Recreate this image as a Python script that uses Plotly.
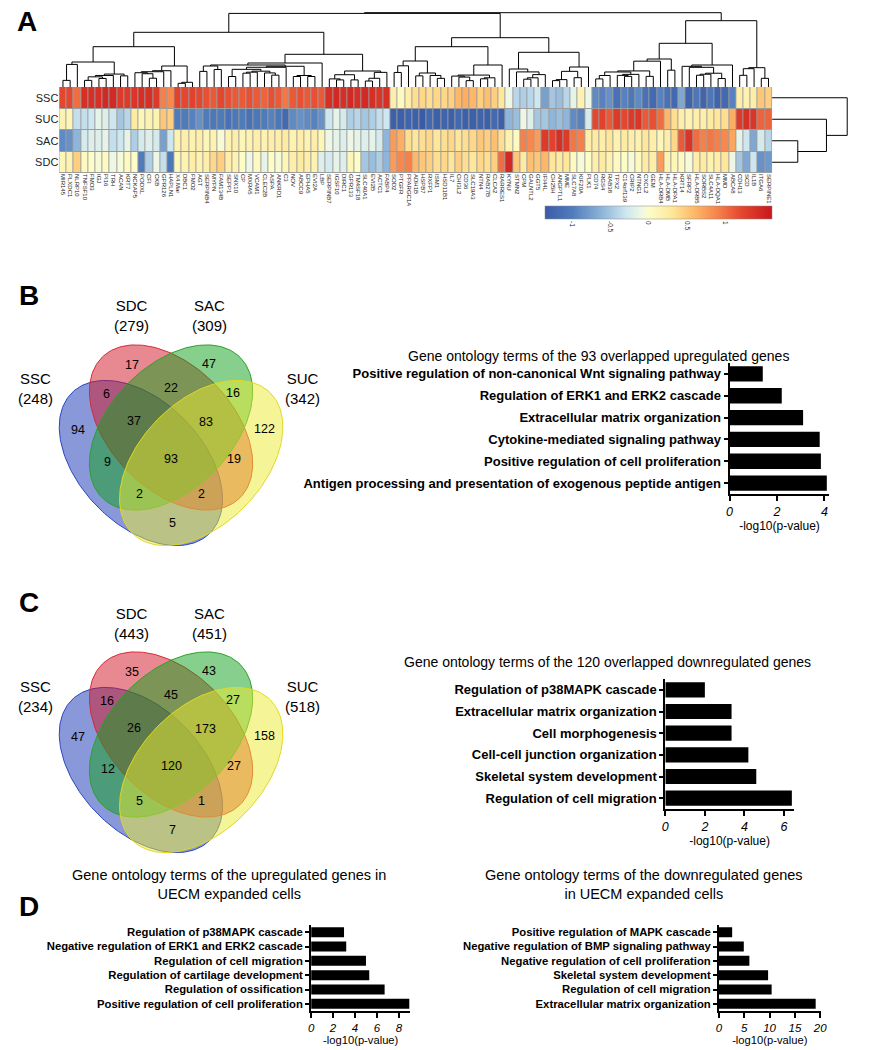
import numpy as np
import plotly.graph_objects as go

W, H = 873, 1050
FONT = "Liberation Sans, Arial, sans-serif"

# ---------------- DATA ----------------
genes = ["MIR145", "PLXDC1", "NLRP10", "TNFSF10", "FMO3", "IGJ", "PI16", "TRH", "ACAN", "KRT7",
         "NCKAP5", "PODXL", "CFI", "CKB", "GPR126", "HAPLN1", "X4.Mar", "DBC1", "FMO2", "AGT",
         "SERPINB4", "MYPN", "FAM134B", "SEPP1", "SNX10", "CP", "MXRA5", "VCAM1", "CLEC2B", "ASPA",
         "ANKRD1", "C3", "NOV", "ABCC9", "EPHA5", "EVI2A", "LBP", "SERPINB7", "IGSF10", "DIRC1",
         "GPR133", "TM4SF18", "SLC40A1", "EVI2B", "ACTC1", "FABP4", "SOD2", "PTGFR", "PPARGC1A", "ADH1B",
         "HSPB7", "RXFP1", "ISM1", "HSD11B1", "IL7", "CHI3L2", "CD36", "SLC19A3", "NTN4", "RAB27B",
         "CLCA2", "RARRES1", "KYNU", "STMN2", "CPM", "GALNTL2", "GGT5", "IFI44L", "CH25H", "ANGPTL1",
         "MME", "SLC7A8", "KIF20A", "PLK1", "CD74", "RGS4", "RAB38", "TPX2", "C14orf139", "CRIP2",
         "NTNG1", "CXCL2", "GEM", "HLA-DRB4", "HLA-DMB", "HLA-DPA1", "KRT14", "SFRP2", "HLA-DRB5", "SORBS2",
         "SLC4A11", "HLA-DQA1", "MMD", "ABCA8", "CDH13", "SCD", "IL1B", "ITGA6", "SERPINE1"]
row_names = ["SSC", "SUC", "SAC", "SDC"]

ssc = [1.2, 1.2, 1.0, 1.4, 1.4, 1.4, 1.45, 1.45, 1.3, 1.3,
       1.35, 1.4, 1.4, 1.3, 0.9, 0.85, 1.25, 1.2, 1.25, 1.2,
       1.15, 1.1, 1.2, 1.15, 1.1, 1.1, 1.15, 1.1, 1.05, 1.15,
       1.1, 0.95, 1.1, 1.15, 1.1, 1.15, 1.1, 1.4, 1.45, 1.4,
       1.45, 1.4, 1.45, 1.4, 1.35, 1.4, 0.2, 0.05, 0.2, 0.35,
       0.4, 0.35, 0.4, 0.4, 0.45, 0.6, 0.65, 0.6, 0.45, 0.55,
       0.45, 0.3, -0.1, -0.4, -0.45, -0.4, -0.3, -0.75, -0.5, -0.55,
       -0.4, -0.15, 0.15, -0.1, -0.9, -0.95, -0.85, -1.1, -0.95, -1.05,
       -0.9, -1.1, -1.2, -0.95, -1.1, -1.2, -0.7, -1.25, -1.05, -1.25,
       -1.05, -1.25, -1.2, -0.95, 0.2, 0.15, 0.2, 0.5, 0.45]
suc = [0.15, 0.1, -0.35, -0.35, -0.3, -0.15, -0.2, -0.3, -0.5, -0.4,
       0.25, 0.1, 0.15, 0.15, 0.5, 0.45, -1.0, -1.0, -0.95, -0.85,
       -1.0, -1.05, -1.0, -1.1, -1.05, -1.0, -1.1, -1.05, -1.0, -0.95,
       -1.05, -1.2, -0.9, -0.85, -0.9, -0.95, -0.85, -0.3, -0.15, -0.25,
       -0.45, -0.4, -0.5, -0.45, -0.35, -0.3, -1.3, -1.3, -1.25, -1.3,
       -1.35, -1.2, -1.3, -1.25, -1.3, -1.2, -1.3, -1.3, -1.25, -1.3,
       -1.2, -1.3, -0.6, -0.55, -0.1, -0.2, -0.5, -0.5, -0.6, -0.55,
       -0.6, -0.9, -0.95, -0.25, 1.2, 1.25, 1.1, 1.3, 1.2, 1.3,
       1.35, 1.1, 1.15, 1.0, 0.6, 0.35, 0.2, 0.15, 0.2, 0.2,
       0.25, 0.3, 0.35, 0.65, 1.3, 1.4, 1.35, 1.05, 1.05]
sac = [-0.9, -0.85, -0.6, -0.25, -0.2, -0.2, -0.15, -0.35, -0.3, -0.15,
       -0.45, -0.25, -0.2, -0.25, -0.75, -0.3, 0.15, 0.2, 0.15, 0.2,
       0.1, 0.15, -0.05, 0.15, 0.2, 0.1, 0.15, 0.2, 0.15, 0.2,
       0.2, 0.25, 0.15, 0.2, 0.15, 0.2, 0.1, -0.1, -0.15, -0.2,
       -0.1, -0.15, -0.2, -0.15, -0.25, -0.6, 0.75, 0.65, 0.35, 0.3,
       0.35, 0.4, 0.3, 0.35, 0.4, 0.3, 0.35, 0.4, 0.5, 0.45,
       0.55, 0.35, 0.15, 0.05, 0.9, 0.85, 0.75, 1.3, 1.25, 1.4,
       1.3, 0.95, 0.9, 0.2, 0.25, 0.2, 0.3, 0.15, 0.25, 0.2,
       0.15, 0.3, 0.2, 0.1, 0.2, 0.4, 1.1, 1.35, 1.0, 0.9,
       0.95, 0.9, 0.85, 0.7, -0.15, -0.3, -0.7, -0.25, -0.4]
sdc = [0.1, 0.15, 0.45, 0.05, 0.0, -0.05, 0.05, -0.1, -0.05, 0.05,
       0.0, -1.0, -0.45, -0.1, -0.35, -1.05, 0.1, 0.15, 0.2, 0.15,
       0.2, 0.4, 0.45, 0.2, 0.15, 0.0, -0.1, 0.05, -0.15, 0.0,
       -0.05, 0.1, 0.2, 0.25, 0.2, 0.15, -0.2, -0.25, -0.15, -0.2,
       0.1, 0.0, -0.5, -0.55, -0.45, -0.6, 0.75, 0.85, 0.9, 0.6,
       0.5, 0.45, 0.35, 0.4, 0.3, 0.45, 0.35, 0.3, 0.4, 0.35,
       0.45, 1.0, 1.45, 0.5, 0.25, 0.55, 0.5, 0.6, 0.3, 0.25,
       0.3, 0.05, -0.05, 0.0, 0.2, 0.25, 0.15, 0.05, 0.0, -0.05,
       0.05, 0.25, 0.2, 0.75, 0.15, 0.1, 0.05, -0.05, 0.2, 0.25,
       0.15, 0.2, 0.3, -0.1, -0.5, -0.7, -0.3, -0.85, -0.8]

# Column dendrogram: [merge height, left, right]; (start, end, top height) = group clustered from the data
col_tree = [74.3,
            [73.6,
             [54.7, [40.3, (0, 10, 25), (10, 19, 21)], [32.7, (19, 37, 24), (37, 46, 16)]],
             [49.3, [40.3, (46, 54, 26), (54, 62, 22)], [34.7, (62, 68, 18), (68, 74, 20)]]],
            [66.3, [43.7, (74, 86, 28), (86, 94, 22)], (94, 99, 18.7)]]
# Row dendrogram (rows 0..3 = SSC, SUC, SAC, SDC)
row_tree = [76, 0, [55, 1, [26, 2, 3]]]

# Venn counts per region
venn_regions = ["SSC", "SDC", "SAC", "SUC", "SSC&SDC", "SDC&SAC", "SAC&SUC", "SSC&SDC&SAC",
                "SDC&SAC&SUC", "SSC&SAC", "ALL", "SDC&SUC", "SSC&SAC&SUC", "SSC&SDC&SUC", "SSC&SUC"]
venn_b_counts = [94, 17, 47, 122, 6, 22, 16, 37, 83, 9, 93, 19, 2, 2, 5]
venn_c_counts = [47, 35, 43, 158, 16, 45, 27, 26, 173, 12, 120, 27, 5, 1, 7]
venn_b_totals = {"SSC": 248, "SDC": 279, "SAC": 309, "SUC": 342}
venn_c_totals = {"SSC": 234, "SDC": 443, "SAC": 451, "SUC": 518}

go_b_terms = ["Positive regulation of non-canonical Wnt signaling pathway",
              "Regulation of ERK1 and ERK2 cascade",
              "Extracellular matrix organization",
              "Cytokine-mediated signaling pathway",
              "Positive regulation of cell proliferation",
              "Antigen processing and presentation of exogenous peptide antigen"]
go_b_vals = [1.4, 2.2, 3.1, 3.8, 3.85, 4.1]
go_c_terms = ["Regulation of p38MAPK cascade", "Extracellular matrix organization",
              "Cell morphogenesis", "Cell-cell junction organization",
              "Skeletal system development", "Regulation of cell migration"]
go_c_vals = [2.0, 3.35, 3.35, 4.2, 4.6, 6.4]
go_d1_terms = ["Regulation of p38MAPK cascade", "Negative regulation of ERK1 and ERK2 cascade",
               "Regulation of cell migration", "Regulation of cartilage development",
               "Regulation of ossification", "Positive regulation of cell proliferation"]
go_d1_vals = [3.0, 3.2, 5.0, 5.3, 6.7, 8.95]
go_d2_terms = ["Positive regulation of MAPK cascade", "Negative regulation of BMP signaling pathway",
               "Negative regulation of cell proliferation", "Skeletal system development",
               "Regulation of cell migration", "Extracellular matrix organization"]
go_d2_vals = [2.6, 4.9, 6.0, 9.7, 10.4, 19.1]

# ---------------- HELPERS ----------------
def dx(x0, x1):
    return [x0 / W, x1 / W]


def dy(y0, y1):
    return [1 - y1 / H, 1 - y0 / H]


Z = np.array([ssc, suc, sac, sdc])


def auto_cluster(start, end, top):
    nodes = [{"x": float(i), "h": 0.0, "kids": [], "m": [i]} for i in range(start, end)]
    if len(nodes) == 1:
        return nodes[0]
    while len(nodes) > 1:
        best, bj = None, 0
        for j in range(len(nodes) - 1):
            a, b = nodes[j]["m"], nodes[j + 1]["m"]
            d = np.mean([np.linalg.norm(Z[:, p] - Z[:, q]) for p in a for q in b])
            if best is None or d < best:
                best, bj = d, j
        l, r = nodes[bj], nodes[bj + 1]
        n = {"x": (l["x"] + r["x"]) / 2, "d": best, "kids": [l, r], "m": l["m"] + r["m"], "h": 0.0}
        nodes[bj:bj + 2] = [n]
    root = nodes[0]
    dmax = root["d"] if root["d"] > 0 else 1.0

    def assign(n):
        if not n["kids"]:
            return 0.0
        hs = [assign(k) for k in n["kids"]]
        h = top * (n["d"] / dmax) ** 0.6
        h = max(h, max(hs) + 1.0)
        n["h"] = h
        return h
    assign(root)
    root["h"] = max(top, max(k["h"] for k in root["kids"]) + 1.0)
    return root


def build(spec):
    if isinstance(spec, list):
        h, l, r = spec
        L, R = build(l), build(r)
        return {"x": (L["x"] + R["x"]) / 2, "h": h, "kids": [L, R]}
    if isinstance(spec, tuple):
        return auto_cluster(*spec)
    return {"x": float(spec), "h": 0.0, "kids": []}


def collect(n, xs, ys):
    if not n["kids"]:
        return
    l, r = n["kids"]
    xs += [l["x"], l["x"], r["x"], r["x"], None]
    ys += [l["h"], n["h"], n["h"], r["h"], None]
    collect(l, xs, ys)
    collect(r, xs, ys)


fig = go.Figure()

# ---------------- HEATMAP ----------------
zmin, zmax = -1.35, 1.6
stops = [(-1.35, "#3a5ca8"), (-1.0, "#4f7bbb"), (-0.6, "#8fb6da"), (-0.3, "#cde6ef"),
         (-0.1, "#eef7e6"), (0.0, "#fdfdc8"), (0.3, "#fee79a"), (0.6, "#fdb768"),
         (0.9, "#f6804a"), (1.2, "#e4472f"), (1.6, "#c8171d")]
cscale = [[(v - zmin) / (zmax - zmin), c] for v, c in stops]

fig.add_trace(go.Heatmap(
    z=Z.tolist(), x=list(range(len(genes))), y=list(range(len(row_names))),
    colorscale=cscale, zmin=zmin, zmax=zmax, xgap=1, ygap=1, hoverinfo="skip",
    xaxis="x", yaxis="y",
    colorbar=dict(orientation="h", x=548 / W, xanchor="left", y=1 - 206 / H, yanchor="top",
                  len=230 / W, lenmode="fraction", thickness=13, thicknessmode="pixels",
                  xpad=0, ypad=0, outlinewidth=0.5, outlinecolor="#888",
                  tickvals=[-1, -0.5, 0, 0.5, 1], ticktext=["-1", "-0.5", "0", "0.5", "1"],
                  tickangle=90, ticks="", tickfont=dict(size=6.5, family=FONT, color="#222"))))

# column dendrogram
ctree = build(col_tree)
xs, ys = [], []
collect(ctree, xs, ys)
fig.add_trace(go.Scatter(x=xs, y=ys, mode="lines", line=dict(color="black", width=1),
                         hoverinfo="skip", xaxis="x2", yaxis="y2"))
# row dendrogram
rtree = build(row_tree)
rxs, rys = [], []
collect(rtree, rxs, rys)
fig.add_trace(go.Scatter(x=rys, y=rxs, mode="lines", line=dict(color="black", width=1),
                         hoverinfo="skip", xaxis="x3", yaxis="y3"))

# ---------------- VENN ----------------
EA, EB = 99.0, 62.0
ellipses = [("SSC", 139.5, 463.0, 45, "rgba(20,50,180,0.5)", "#2a45c0"),
            ("SDC", 170.0, 427.5, 45, "rgba(210,20,35,0.5)", "#d42b3a"),
            ("SAC", 170.0, 427.5, -45, "rgba(15,160,25,0.5)", "#2ca02c"),
            ("SUC", 200.5, 463.0, -45, "rgba(235,235,50,0.5)", "#e0d820")]
count_pos = {"SSC": (76, 430), "SDC": (130, 365), "SAC": (208, 364), "SUC": (265, 429),
             "SSC&SDC": (105, 394), "SDC&SAC": (170, 388), "SAC&SUC": (233, 393),
             "SSC&SDC&SAC": (133, 421), "SDC&SAC&SUC": (205, 422), "SSC&SAC": (106, 462),
             "ALL": (170, 459), "SDC&SUC": (234, 459), "SSC&SAC&SUC": (138, 494),
             "SSC&SDC&SUC": (201, 494), "SSC&SUC": (171, 523)}
set_pos = {"SSC": (33, 389), "SDC": (130, 316), "SAC": (209, 316), "SUC": (303, 389)}

annotations = []
t = np.linspace(0, 2 * np.pi, 240)
for ax, counts, totals in [("4", venn_b_counts, venn_b_totals), ("5", venn_c_counts, venn_c_totals)]:
    for name, cx, cy, ang, fc, lc in ellipses:
        th = np.radians(ang)
        ex = cx + EA * np.cos(t) * np.cos(th) - EB * np.sin(t) * np.sin(th)
        ey = cy + EA * np.cos(t) * np.sin(th) + EB * np.sin(t) * np.cos(th)
        fig.add_trace(go.Scatter(x=ex, y=ey, mode="lines", fill="toself", fillcolor=fc,
                                 line=dict(color=lc, width=1), hoverinfo="skip",
                                 xaxis="x" + ax, yaxis="y" + ax))
    for reg, c in zip(venn_regions, counts):
        px, py = count_pos[reg]
        annotations.append(dict(x=px, y=py, xref="x" + ax, yref="y" + ax, text=str(c),
                                showarrow=False, font=dict(size=12.5, family=FONT, color="black")))
    for s, (px, py) in set_pos.items():
        annotations.append(dict(x=px, y=py, xref="x" + ax, yref="y" + ax,
                                text=f"{s}<br>({totals[s]})", showarrow=False,
                                font=dict(size=15, family=FONT, color="black")))

# ---------------- BAR CHARTS ----------------
bars = [("6", go_b_terms, go_b_vals), ("7", go_c_terms, go_c_vals),
        ("8", go_d1_terms, go_d1_vals), ("9", go_d2_terms, go_d2_vals)]
for ax, terms, vals in bars:
    fig.add_trace(go.Bar(x=vals, y=terms, orientation="h", marker=dict(color="black", line=dict(width=0)),
                         hoverinfo="skip", xaxis="x" + ax, yaxis="y" + ax))

layout = dict(width=W, height=H, margin=dict(l=0, r=0, t=0, b=0), showlegend=False,
              paper_bgcolor="white", plot_bgcolor="white", font=dict(family=FONT, color="black"),
              bargap=0.3)

hide = dict(visible=False, showgrid=False, zeroline=False)
layout["xaxis"] = dict(domain=dx(57, 778), range=[-0.5, len(genes) - 0.5], anchor="y",
                       tickmode="array", tickvals=list(range(len(genes))), ticktext=genes,
                       tickangle=90, ticks="", showgrid=False, zeroline=False, showline=False,
                       tickfont=dict(size=6, family=FONT, color="#222"))
layout["yaxis"] = dict(domain=dy(87, 173), range=[3.5, -0.5], anchor="x", tickmode="array",
                       tickvals=[0, 1, 2, 3], ticktext=row_names, ticks="", showgrid=False,
                       zeroline=False, tickfont=dict(size=11, family=FONT, color="#222"))
layout["xaxis2"] = dict(domain=dx(57, 778), range=[-0.5, len(genes) - 0.5], anchor="y2", **hide)
layout["yaxis2"] = dict(domain=dy(8, 87), range=[0, 79], anchor="x2", **hide)
layout["xaxis3"] = dict(domain=dx(778, 862), range=[0, 84], anchor="y3", **hide)
layout["yaxis3"] = dict(domain=dy(87, 173), range=[3.5, -0.5], anchor="x3", **hide)
layout["xaxis4"] = dict(domain=dx(0, 330), range=[0, 330], anchor="y4", **hide)
layout["yaxis4"] = dict(domain=dy(280, 560), range=[560, 280], anchor="x4", **hide)
layout["xaxis5"] = dict(domain=dx(0, 330), range=[0, 330], anchor="y5", **hide)
layout["yaxis5"] = dict(domain=dy(587, 867), range=[560, 280], anchor="x5", **hide)

bar_geo = {"6": (dx(735, 836), dy(363, 494), [0, 4.21], [0, 2, 4], 13, 12.5, 12),
           "7": (dx(670, 800), dy(679, 809), [0, 6.5], [0, 2, 4, 6], 13, 12.5, 12),
           "8": (dx(311.7, 412), dy(925, 1011), [0, 9.04], [0, 2, 4, 6, 8], 11.3, 11.5, 11.2),
           "9": (dx(724.3, 827), dy(925, 1011), [0, 20.06], [0, 5, 10, 15, 20], 11.3, 11.5, 11.2)}
for ax, (xd, yd, xr, tv, lab_fs, tick_fs, tit_fs) in bar_geo.items():
    layout["xaxis" + ax] = dict(domain=xd, range=xr, anchor="y" + ax, showline=True, linewidth=2,
                                linecolor="black", ticks="outside", ticklen=5, tickwidth=1.5,
                                tickcolor="black", tickvals=tv, showgrid=False, zeroline=False,
                                tickfont=dict(size=tick_fs, family=FONT, style="italic", color="black"),
                                title=dict(text="-log10(p-value)", standoff=2,
                                           font=dict(size=tit_fs, family=FONT, color="black")))
    layout["yaxis" + ax] = dict(domain=yd, anchor="x" + ax, type="category", autorange="reversed",
                                showline=True, linewidth=2, linecolor="black", ticks="outside",
                                ticklen=4, tickwidth=1.5, tickcolor="black", showgrid=False,
                                zeroline=False,
                                tickfont=dict(size=lab_fs, family=FONT, weight="bold", color="black"))

# titles and panel letters
def pa(x, y, text, size, bold=False, xanchor="center"):
    return dict(x=x / W, y=1 - y / H, xref="paper", yref="paper", text=text, showarrow=False,
                xanchor=xanchor, yanchor="middle",
                font=dict(size=size, family=FONT, color="black", weight="bold" if bold else "normal"))

annotations += [
    pa(24, 22, "A", 28, True), pa(26, 295, "B", 28, True),
    pa(26, 602, "C", 28, True), pa(26, 906, "D", 28, True),
    pa(602, 356, "Gene ontology terms of the 93 overlapped upregulated genes", 14),
    pa(611, 662, "Gene ontology terms of the 120 overlapped downregulated genes", 14),
    pa(229, 884, "Gene ontology terms of the upregulated genes in<br>UECM expanded cells", 14.5),
    pa(648, 884, "Gene ontology terms of the downregulated genes<br>in UECM expanded cells", 14.5),
]
layout["annotations"] = annotations
layout["shapes"] = [dict(type="rect", xref="x", yref="y", x0=-0.5, x1=len(genes) - 0.5, y0=-0.5, y1=3.5,
                         fillcolor="#9c9c9c", line=dict(color="#9c9c9c", width=1), layer="below")]

fig.update_layout(layout)
fig.write_html("out.html", config={"displayModeBar": False},
               post_script="document.body.style.margin='0';")
